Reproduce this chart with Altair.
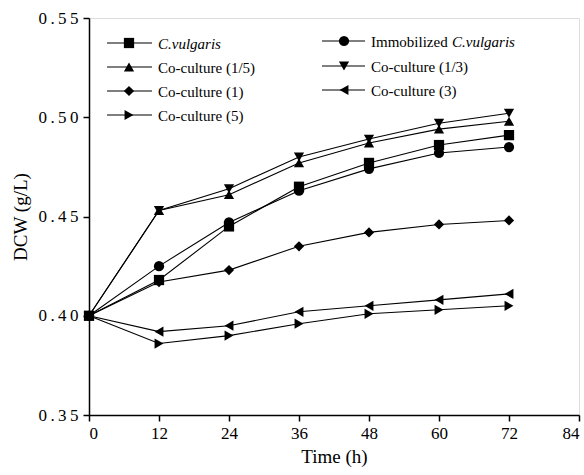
import altair as alt
import pandas as pd

time = [0, 12, 24, 36, 48, 60, 72]
cv = [0.400, 0.418, 0.445, 0.465, 0.477, 0.486, 0.491]
immob = [0.400, 0.425, 0.447, 0.463, 0.474, 0.482, 0.485]
co_1_5 = [0.400, 0.453, 0.461, 0.477, 0.487, 0.494, 0.498]
co_1_3 = [0.400, 0.453, 0.464, 0.480, 0.489, 0.497, 0.502]
co_1 = [0.400, 0.417, 0.423, 0.435, 0.442, 0.446, 0.448]
co_3 = [0.400, 0.392, 0.395, 0.402, 0.405, 0.408, 0.411]
co_5 = [0.400, 0.386, 0.390, 0.396, 0.401, 0.403, 0.405]

series_names = ["C.vulgaris", "Immobilized C.vulgaris", "Co-culture (1/5)", "Co-culture (1/3)",
                "Co-culture (1)", "Co-culture (3)", "Co-culture (5)"]
series_vals = [cv, immob, co_1_5, co_1_3, co_1, co_3, co_5]
shapes = ["square", "circle", "triangle-up", "triangle-down", "diamond", "triangle-left", "triangle-right"]

rows = []
for name, vals in zip(series_names, series_vals):
    for t, v in zip(time, vals):
        rows.append({"series": name, "time": t, "dcw": v})
df = pd.DataFrame(rows)

FONT = "'Liberation Serif', 'Times New Roman', serif"
xs = alt.Scale(domain=[0, 84], nice=False)
ys = alt.Scale(domain=[0.35, 0.55], nice=False, zero=False)
shape_scale = alt.Scale(domain=series_names, range=shapes)

common = dict(grid=False, labelFont=FONT, labelFontSize=17, titleFont=FONT, titleFontSize=19,
              titleFontWeight="normal", labelColor="black", titleColor="black",
              domainColor="black", tickColor="black", domainWidth=1.5, tickWidth=1.5, tickSize=6)
xax = alt.Axis(values=[0, 12, 24, 36, 48, 60, 72, 84], title="Time (h)",
               labelPadding=4, titlePadding=6, **common)
yax = alt.Axis(values=[0.35, 0.40, 0.45, 0.50, 0.55], title="DCW (g/L)",
               labelExpr="replace(format(datum.value, '.2f'), /(.)(?=.)/g, '$1\u2009')",
               labelPadding=5, titlePadding=8, **common)

lines = alt.Chart(df).mark_line(color="black", strokeWidth=1.1).encode(
    x=alt.X("time:Q", scale=xs, axis=xax),
    y=alt.Y("dcw:Q", scale=ys, axis=yax),
    detail="series:N",
)
points = alt.Chart(df).mark_point(filled=True, color="black", opacity=1, size=105).encode(
    x=alt.X("time:Q", scale=xs),
    y=alt.Y("dcw:Q", scale=ys),
    shape=alt.Shape("series:N", scale=shape_scale, legend=None),
)

# manual legend, layout in plot-area pixels
OX, OY = 89, 18
leg_rows = [
    ("C.vulgaris", 107, 152, 129, 43, 158),
    ("Co-culture (1/5)", 107, 152, 129, 67, 158),
    ("Co-culture (1)", 107, 152, 129, 91, 158),
    ("Co-culture (5)", 107, 152, 129, 115, 158),
    ("Immobilized C.vulgaris", 322, 365, 344, 41, 371),
    ("Co-culture (1/3)", 322, 365, 344, 66, 371),
    ("Co-culture (3)", 322, 365, 344, 90, 371),
]
leg = pd.DataFrame([{"series": r[0], "x1": r[1] - OX, "x2": r[2] - OX, "mx": r[3] - OX,
                     "py": r[4] - OY, "tx": r[5] - OX} for r in leg_rows])
leg["label"] = leg["series"].str.replace("Immobilized C.vulgaris", "Immobilized")
leg["italic"] = leg["series"].isin(["C.vulgaris"])

leg_lines = alt.Chart(leg).mark_rule(color="black", strokeWidth=1.1).encode(
    x=alt.X("x1:Q", scale=None), x2="x2:Q", y=alt.Y("py:Q", scale=None))
leg_pts = alt.Chart(leg).mark_point(filled=True, color="black", opacity=1, size=105).encode(
    x=alt.X("mx:Q", scale=None), y=alt.Y("py:Q", scale=None),
    shape=alt.Shape("series:N", scale=shape_scale, legend=None))
leg_text_normal = alt.Chart(leg).transform_filter("!datum.italic").mark_text(
    align="left", baseline="middle", font=FONT, fontSize=15, color="black", dy=1).encode(
    x=alt.X("tx:Q", scale=None), y=alt.Y("py:Q", scale=None), text="label:N")
leg_text_italic = alt.Chart(leg).transform_filter("datum.italic").mark_text(
    align="left", baseline="middle", font=FONT, fontSize=15, fontStyle="italic", color="black", dy=1).encode(
    x=alt.X("tx:Q", scale=None), y=alt.Y("py:Q", scale=None), text="label:N")
imm_italic = pd.DataFrame({"t": ["C.vulgaris"], "x": [452 - OX], "y": [41 - OY]})
leg_text_imm = alt.Chart(imm_italic).mark_text(
    align="left", baseline="middle", font=FONT, fontSize=15, fontStyle="italic", color="black", dy=1).encode(
    x=alt.X("x:Q", scale=None), y=alt.Y("y:Q", scale=None), text="t:N")

chart = alt.layer(lines, points, leg_lines, leg_pts, leg_text_normal, leg_text_italic, leg_text_imm).properties(
    width=490, height=397,
    padding={"left": OX, "top": OY, "right": 5, "bottom": 60},
    autosize=alt.AutoSizeParams(type="none"),
).configure_view(stroke="#333", strokeWidth=1.5).configure(background="white")

chart.save("out.html", embed_options={"renderer": "svg", "actions": False})
